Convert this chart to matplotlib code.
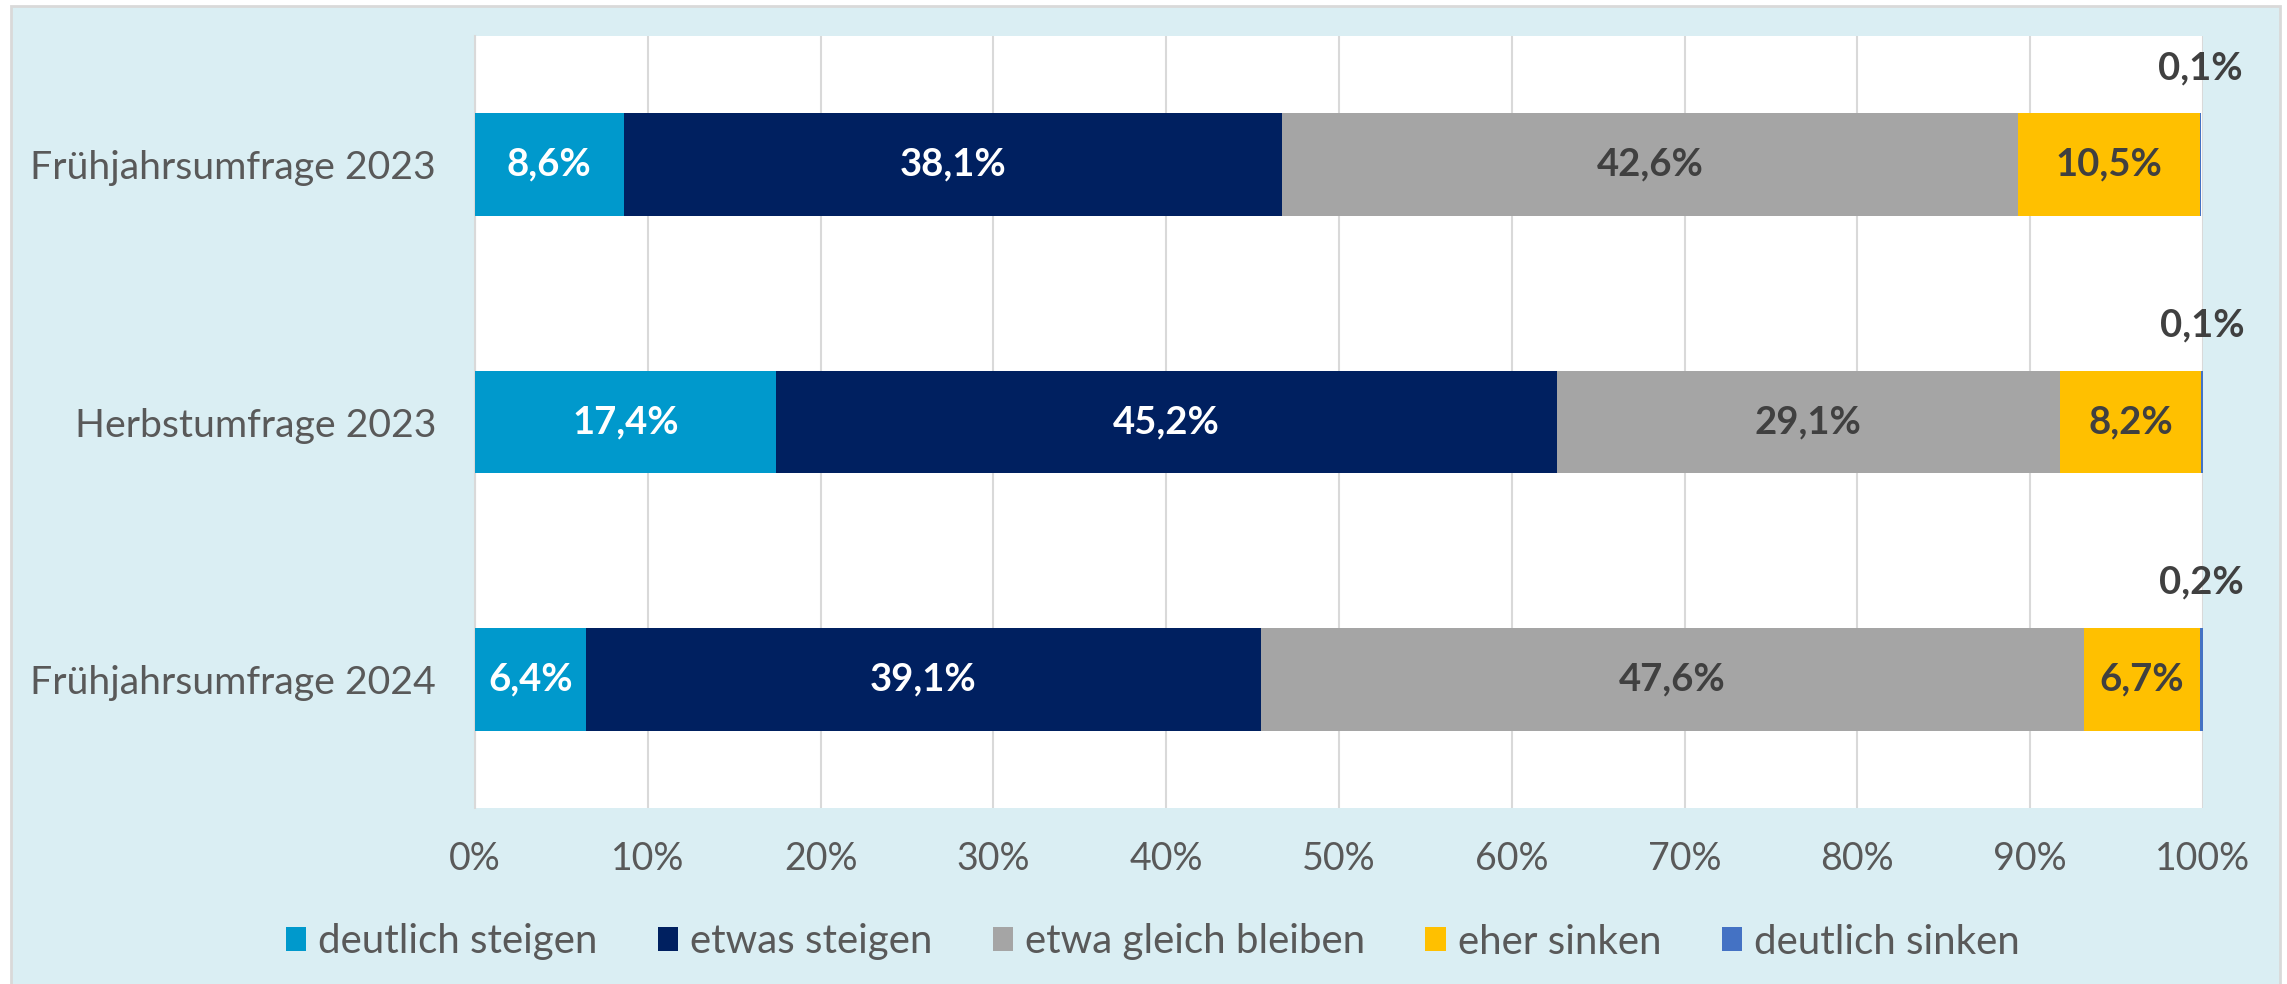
import matplotlib
matplotlib.use("Agg")
import matplotlib.pyplot as plt
from matplotlib.patches import Rectangle
import numpy as np

plt.rcParams['font.family'] = ['Lato', 'DejaVu Sans']

# data
categories = ["Frühjahrsumfrage 2023", "Herbstumfrage 2023", "Frühjahrsumfrage 2024"]
series = ["deutlich steigen", "etwas steigen", "etwa gleich bleiben", "eher sinken", "deutlich sinken"]
deutlich_steigen = [8.6, 17.4, 6.4]
etwas_steigen = [38.1, 45.2, 39.1]
gleich_bleiben = [42.6, 29.1, 47.6]
eher_sinken = [10.5, 8.2, 6.7]
deutlich_sinken = [0.1, 0.1, 0.2]
xticks = [0, 10, 20, 30, 40, 50, 60, 70, 80, 90, 100]

colors = ["#0099CC", "#002060", "#A5A5A5", "#FFC000", "#4472C4"]
label_colors = ["white", "white", "#404040", "#404040", "#404040"]
values = [deutlich_steigen, etwas_steigen, gleich_bleiben, eher_sinken, deutlich_sinken]

fig = plt.figure(figsize=(22.87, 9.84), dpi=100)
fig.patch.set_facecolor("white")
# light blue chart area with grey frame
fig.patches.append(Rectangle((11 / 2287, -0.01), (2280 - 11) / 2287, 1 - 6 / 984 + 0.01,
                             transform=fig.transFigure, facecolor="#DAEEF3",
                             edgecolor="#D9D9D9", linewidth=2, zorder=-1))

ax = fig.add_axes([475 / 2287, 1 - 808 / 984, (2203 - 475) / 2287, (808 - 36) / 984])
ax.set_zorder(1)
ax.set_facecolor("white")

y = np.arange(len(categories))
left = np.zeros(len(categories))
for vals, name, col, lcol in zip(values, series, colors, label_colors):
    vals = np.array(vals)
    ax.barh(y, vals, left=left, height=0.4, color=col, label=name, zorder=3)
    for i in range(len(y)):
        txt = ("%.1f%%" % vals[i]).replace(".", ",")
        cx = left[i] + vals[i] / 2
        if name == "deutlich sinken":
            ax.text(cx, y[i] - 0.375, txt, ha="center", va="center", fontsize=27.5,
                    fontweight="bold", color=lcol, zorder=4)
        else:
            ax.text(cx, y[i], txt, ha="center", va="center", fontsize=27.5,
                    fontweight="bold", color=lcol, zorder=4)
    left = left + vals

ax.set_xlim(0, 100)
ax.set_ylim(2.5, -0.5)
ax.set_xticks(xticks)
ax.set_xticklabels(["%d%%" % t for t in xticks])
ax.set_yticks(y)
ax.set_yticklabels(categories)
ax.tick_params(axis="both", length=0, labelsize=27, colors="#595959")
ax.tick_params(axis="x", pad=24)
ax.tick_params(axis="y", pad=28, labelsize=28.3)
ax.grid(axis="x", color="#D9D9D9", linewidth=1.5, zorder=0)
ax.set_axisbelow(True)
for s in ["top", "right", "bottom"]:
    ax.spines[s].set_visible(False)
ax.spines["left"].set_color("#D9D9D9")
ax.spines["left"].set_linewidth(1.5)

fig.legend(loc="center", bbox_to_anchor=(0.504, 1 - 942 / 984), ncol=5, frameon=False,
           fontsize=29, labelcolor="#595959", handlelength=0.5, handleheight=0.55,
           handletextpad=0.3, columnspacing=1.5)

fig.savefig("out.png", dpi=100, facecolor=fig.get_facecolor())
